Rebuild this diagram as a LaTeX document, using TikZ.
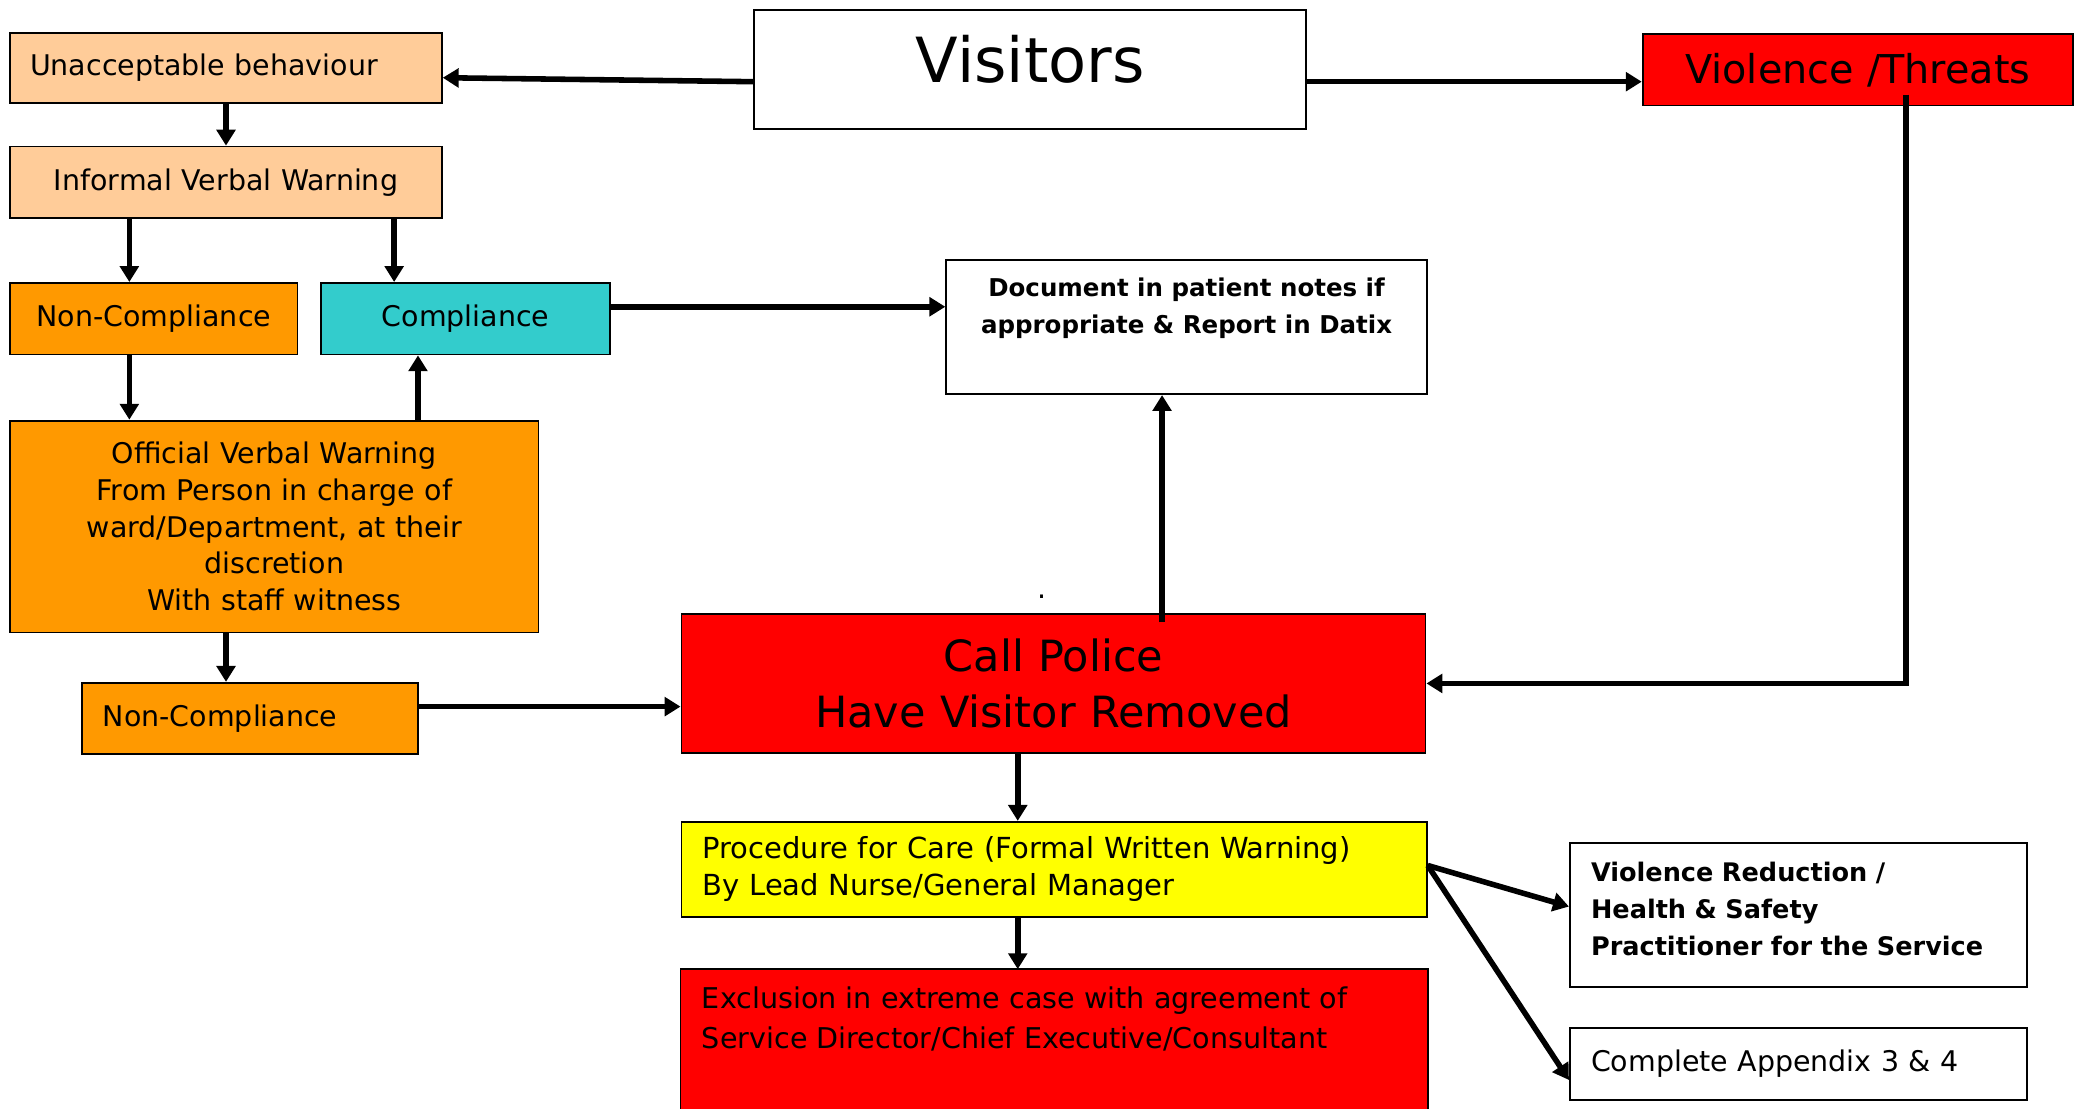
\documentclass[tikz,border=0pt]{standalone}
\usepackage{fontspec}
\setmainfont{DejaVu Sans}
\usetikzlibrary{arrows.meta,calc}
\definecolor{peach}{HTML}{FFCC99}
\definecolor{orng}{HTML}{FF9900}
\definecolor{teal2}{HTML}{33CCCC}
\definecolor{red2}{HTML}{FF0000}
\definecolor{yel}{HTML}{FFFF00}
\newcommand{\fzA}{\fontsize{21.5pt}{28pt}\selectfont}
\newcommand{\fzP}{\fontsize{21.9pt}{28pt}\selectfont}
\newcommand{\fzO}{\fontsize{21.5pt}{27.7pt}\selectfont}
\newcommand{\fzX}{\fontsize{21.6pt}{30pt}\selectfont}
\newcommand{\fzVis}{\fontsize{47pt}{56pt}\selectfont}
\newcommand{\fzVT}{\fontsize{30pt}{36pt}\selectfont}
\newcommand{\fzCP}{\fontsize{32.5pt}{43pt}\selectfont}
\newcommand{\fzDoc}{\fontsize{18.5pt}{28pt}\selectfont\bfseries}
\newcommand{\fzVR}{\fontsize{19.3pt}{28pt}\selectfont\bfseries}
\begin{document}
\begin{tikzpicture}[x=1pt,y=-1pt,
  bx/.style={draw, line width=1.4pt, inner xsep=0pt, inner ysep=0pt, anchor=north west},
  arr/.style={line width=4.2pt, -{Triangle[length=12pt,width=14pt]}},
  bline/.style={line width=1.4pt}
]
\useasboundingbox (0,0) rectangle (1568,837);

% boxes
\node[bx, fill=peach, minimum width=326pt, minimum height=53pt, text width=296pt, align=left, font=\fzA] (unacc) at (7,24) {Unacceptable behaviour};
\node[bx, fill=peach, minimum width=326pt, minimum height=54pt, text width=310pt, align=center, font=\fzA] (informal) at (7,110) {Informal Verbal Warning};
\node[bx, fill=orng, minimum width=217pt, minimum height=54pt, text width=210pt, align=center, font=\fzA] (nc1) at (7,213) {Non-Compliance};
\node[bx, fill=teal2, minimum width=218pt, minimum height=54pt, text width=210pt, align=center, font=\fzA] (comp) at (242,213) {Compliance};
\node[bx, fill=orng, minimum width=399pt, minimum height=160pt, text width=390pt, align=center, font=\fzO] (official) at (7,317) {Official Verbal Warning\\From Person in charge of\\ward/Department, at their\\discretion\\With staff witness};
\node[bx, fill=orng, minimum width=254pt, minimum height=54pt, text width=222pt, align=left, font=\fzA] (nc2) at (61,515) {Non-Compliance};
\node[bx, fill=white, minimum width=417pt, minimum height=90pt, text width=400pt, align=center, font=\fzVis, text depth=16pt] (visitors) at (569,7) {Visitors};
\node[bx, fill=red2, minimum width=325pt, minimum height=54pt, text width=318pt, align=center, font=\fzVT] (violence) at (1240,25) {Violence /Threats};
\node[bx, fill=white, minimum width=363pt, minimum height=101pt] (doc) at (714,196) {};
\node[anchor=north, inner sep=0pt, align=center, font=\fzDoc] (docT) at ([yshift=-14pt]doc.north) {Document in patient notes if\\appropriate \& Report in Datix};
\node[anchor=base, inner sep=0pt, font=\fzA] (dot) at (787,452) {.};
\node[bx, fill=red2, minimum width=562pt, minimum height=105pt, text width=550pt, align=center, font=\fzCP] (police) at (514,463) {Call Police\\Have Visitor Removed};
\node[bx, fill=yel, minimum width=563pt, minimum height=72pt, text width=531pt, align=left, font=\fzP] (proc) at (514,620) {Procedure for Care (Formal Written Warning)\\By Lead Nurse/General Manager};
\node[anchor=north west, fill=red2, inner sep=0pt, minimum width=564pt, minimum height=106pt] (excl) at (514,732) {};
\draw[bline] (excl.south west) -- (excl.north west) -- (excl.north east) -- (excl.south east);
\node[anchor=north west, inner sep=0pt, align=left, font=\fzX] (exclT) at ([xshift=16pt,yshift=-13pt]excl.north west) {Exclusion in extreme case with agreement of\\Service Director/Chief Executive/Consultant};
\node[bx, fill=white, minimum width=345pt, minimum height=109pt, text width=313pt, align=left, font=\fzVR] (vr) at (1185,636) {\mbox{Violence Reduction /}\\\mbox{Health \& Safety}\\\mbox{Practitioner for the Service}\\[-18pt]\mbox{}};
\node[bx, fill=white, minimum width=345pt, minimum height=54pt, text width=313pt, align=left, font=\fzA] (app) at (1185,776) {Complete Appendix 3 \& 4};

% connectors
\draw[arr] ([yshift=-9pt]visitors.west) -- ([yshift=-7.5pt]unacc.east);
\draw[arr] ([yshift=-9pt]visitors.east) -- ([yshift=-9pt]violence.west);
\draw[arr] (unacc) -- (informal);
\coordinate (a1) at ([xshift=-18.5pt]nc1.north);
\draw[arr] (informal.south -| a1) -- (a1);
\coordinate (a2) at ([xshift=-54pt]comp.north);
\draw[arr] (informal.south -| a2) -- (a2);
\draw[arr] (nc1.south -| a1) -- (official.north -| a1);
\coordinate (a3) at ([xshift=-36pt]comp.south);
\draw[arr] (official.north -| a3) -- (a3);
\coordinate (a4) at ([yshift=9pt]comp.east);
\draw[arr] (a4) -- (doc.west |- a4);
\coordinate (a5) at ([xshift=-18pt]nc2.north);
\draw[arr] (official.south -| a5) -- (a5);
\coordinate (a6) at ([yshift=9pt]nc2.east);
\draw[arr] (a6) -- (police.west |- a6);
\coordinate (a7) at ([xshift=36.5pt,yshift=9pt]violence.south);
\draw[arr] (a7) |- (police.east);
\coordinate (a8) at ([xshift=82pt,yshift=-7pt]police.north);
\draw[arr] (a8) -- (doc.south -| a8);
\coordinate (a9) at ([xshift=-27pt]police.south);
\draw[arr] (a9) -- (proc.north -| a9);
\draw[arr] (proc.south -| a9) -- (excl.north -| a9);
\coordinate (a10) at ([yshift=3pt]proc.east);
\draw[arr] (a10) -- ([yshift=6.5pt]vr.west);
\draw[arr] (a10) -- ([yshift=-12pt]app.west);
\end{tikzpicture}
\end{document}
